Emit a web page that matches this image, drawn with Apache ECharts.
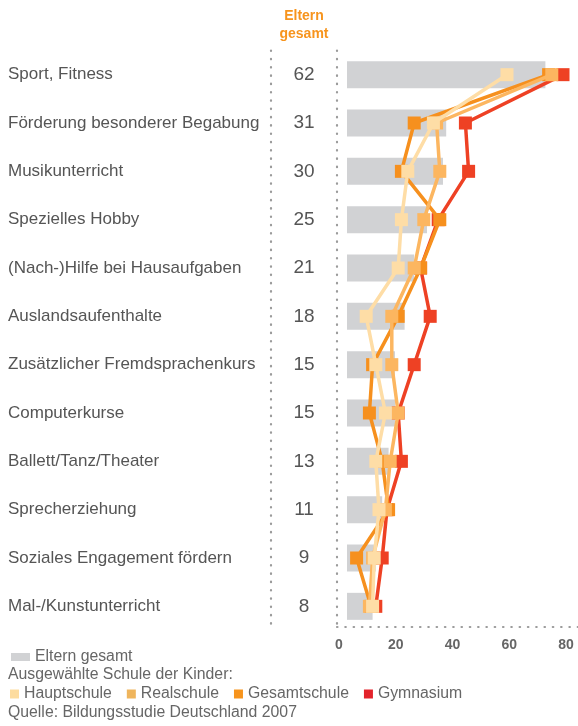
<!DOCTYPE html>
<html>
<head>
<meta charset="utf-8">
<script src="https://cdn.jsdelivr.net/npm/echarts@6/dist/echarts.min.js"></script>
<style>
  html, body { margin: 0; padding: 0; background: #fff; }
  #chart { width: 578px; height: 726px; }
</style>
</head>
<body>
<div id="chart"></div>
<script>
const categories = [
  "Sport, Fitness",
  "Förderung besonderer Begabung",
  "Musikunterricht",
  "Spezielles Hobby",
  "(Nach-)Hilfe bei Hausaufgaben",
  "Auslandsaufenthalte",
  "Zusätzlicher Fremdsprachenkurs",
  "Computerkurse",
  "Ballett/Tanz/Theater",
  "Sprecherziehung",
  "Soziales Engagement fördern",
  "Mal-/Kunstunterricht"
];
const elternGesamt = [62, 31, 30, 25, 21, 18, 15, 15, 13, 11, 9, 8];
const hauptschule = [50, 27, 19, 17, 16, 6, 9, 12, 9, 10, 8.5, 8];
const realschule = [64, 28, 29, 24, 21, 14, 14, 16, 13.5, 12, 8, 7];
const gesamtschule = [63, 21, 17, 29, 23, 16, 8, 7, 11, 13, 3, 7.5];
const gymnasium = [67.5, 37, 38, 28.5, 23, 26, 21, 16, 17, 12.5, 11, 9];
const tickLabels = [0, 20, 40, 60, 80];

// grid geometry
const gridLeft = 337, gridWidth = 241;
// bars and points: 0 sits at x=347, 3.2 px per unit
const dataMin = -10 / 3.2, dataMax = dataMin + gridWidth / 3.2;
// printed scale: 0 at x=339, 80 at x=566
const tickPx = (566 - 339) / 80;
const tickMin = -2 / tickPx, tickMax = tickMin + gridWidth / tickPx;

const dotted = { color: "#9b9b9b", width: 2.2, type: [0.5, 7.8], cap: "round" };
const txt = "#555";
const font = "Liberation Sans";
const noteFont = "15.8px " + font;

function lineSeries(name, data, color, z) {
  return {
    name: name,
    type: "line",
    data: data,
    xAxisIndex: 0,
    yAxisIndex: 0,
    symbol: "rect",
    symbolSize: 13,
    clip: false,
    z: z,
    lineStyle: { color: color, width: 3.5 },
    itemStyle: { color: color, borderWidth: 0 }
  };
}

const chart = echarts.init(document.getElementById("chart"), null, { renderer: "canvas" });
chart.setOption({
  animation: false,
  textStyle: { fontFamily: font },
  grid: { left: gridLeft, top: 50.5, width: gridWidth, height: 580 },
  xAxis: [
    {
      type: "value", min: dataMin, max: dataMax, show: false
    },
    {
      type: "value", min: tickMin, max: tickMax, position: "bottom", offset: -4,
      axisLine: { show: true, onZero: false, lineStyle: dotted },
      axisTick: { show: false },
      splitLine: { show: false },
      axisLabel: {
        customValues: tickLabels, margin: 12,
        color: "#666", fontSize: 14, fontWeight: "bold", fontFamily: font
      }
    }
  ],
  yAxis: [
    {
      type: "category", data: categories, inverse: true, position: "left", offset: 66,
      axisLine: { show: true, onZero: false, lineStyle: dotted },
      axisTick: { show: false },
      axisLabel: { margin: 263, align: "left", color: txt, fontSize: 17, fontFamily: font }
    },
    {
      type: "category", data: elternGesamt.map(String), inverse: true, position: "left", offset: 0,
      axisLine: { show: true, onZero: false, lineStyle: dotted },
      axisTick: { show: false },
      axisLabel: { margin: 33, align: "center", color: txt, fontSize: 19, fontFamily: font }
    }
  ],
  legend: [
    {
      data: ["Eltern gesamt"], left: 11, top: 649, padding: 0, icon: "rect",
      itemWidth: 19, itemHeight: 8, itemGap: 6,
      textStyle: { color: "#666", fontSize: 15.8, fontFamily: font }
    },
    {
      data: [
        { name: "Hauptschule", itemStyle: { color: "#fddc9f" } },
        { name: "Realschule", itemStyle: { color: "#efb55d" } },
        { name: "Gesamtschule", itemStyle: { color: "#f7941d" } },
        { name: "Gymnasium", itemStyle: { color: "#e3232b" } }
      ],
      left: 10, top: 686, padding: 0, icon: "rect", itemWidth: 9, itemHeight: 9, itemGap: 15,
      textStyle: { color: "#666", fontSize: 15.8, fontFamily: font }
    }
  ],
  graphic: [
    {
      type: "text", left: 8, top: 667,
      style: { text: "Ausgewählte Schule der Kinder:", fill: "#666", font: noteFont }
    },
    {
      type: "text", left: 8, top: 705,
      style: { text: "Quelle: Bildungsstudie Deutschland 2007", fill: "#666", font: noteFont }
    },
    {
      type: "text", x: 304, y: 7,
      style: {
        text: "Eltern\ngesamt", fill: "#f7941d", align: "center", lineHeight: 18,
        font: "bold 14px " + font
      }
    }
  ],
  series: [
    {
      name: "Eltern gesamt", type: "bar", data: elternGesamt,
      xAxisIndex: 0, yAxisIndex: 0, barWidth: 27, z: 1,
      itemStyle: { color: "#d1d2d4" }
    },
    lineSeries("Gymnasium", gymnasium, "#ee4124", 2),
    lineSeries("Gesamtschule", gesamtschule, "#f6901e", 3),
    lineSeries("Realschule", realschule, "#fcb660", 4),
    lineSeries("Hauptschule", hauptschule, "#fedda6", 5)
  ]
});
</script>
</body>
</html>
